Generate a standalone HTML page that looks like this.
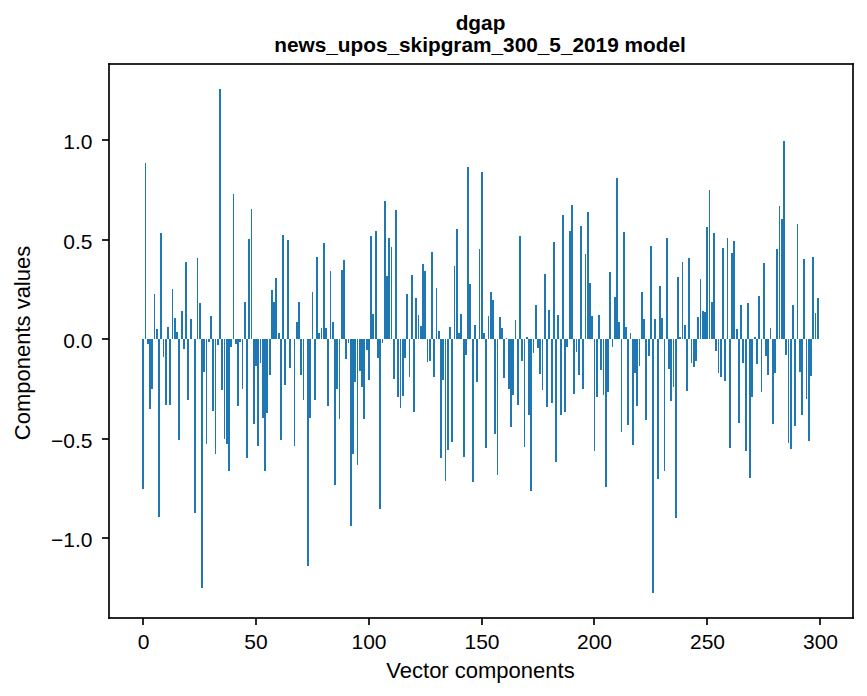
<!DOCTYPE html>
<html lang="en">
<head>
<meta charset="utf-8">
<title>dgap - news_upos_skipgram_300_5_2019 model</title>
<style>
html,body{margin:0;padding:0;background:#fff;font-family:"Liberation Sans",sans-serif}
svg{display:block}
</style>
</head>
<body>
<svg width="867" height="696" viewBox="0 0 867 696" role="img" aria-label="Bar chart of the 300 vector components of the word dgap in the news_upos_skipgram_300_5_2019 model">
<rect width="867" height="696" fill="#fff"/>
<g id="bars" fill="#1f77b4" shape-rendering="crispEdges">
<rect x="142" y="339" width="2" height="150"/><rect x="145" y="163" width="1" height="176"/><rect x="147" y="339" width="2" height="5"/><rect x="149" y="339" width="2" height="70"/><rect x="151" y="339" width="2" height="50"/><rect x="154" y="294" width="1" height="45"/>
<rect x="156" y="329" width="2" height="10"/><rect x="158" y="339" width="2" height="178"/><rect x="160" y="233" width="2" height="106"/><rect x="163" y="339" width="1" height="18"/><rect x="165" y="339" width="2" height="66"/><rect x="167" y="327" width="2" height="12"/>
<rect x="169" y="339" width="2" height="66"/><rect x="172" y="289" width="1" height="50"/><rect x="174" y="318" width="2" height="21"/><rect x="176" y="332" width="2" height="7"/><rect x="178" y="339" width="2" height="101"/><rect x="181" y="311" width="2" height="28"/>
<rect x="183" y="339" width="2" height="10"/><rect x="185" y="262" width="2" height="77"/><rect x="187" y="339" width="2" height="61"/><rect x="190" y="319" width="2" height="20"/><rect x="194" y="339" width="2" height="174"/><rect x="197" y="258" width="1" height="81"/>
<rect x="199" y="303" width="2" height="36"/><rect x="201" y="339" width="2" height="249"/><rect x="203" y="339" width="2" height="33"/><rect x="206" y="339" width="1" height="105"/><rect x="208" y="339" width="2" height="3"/><rect x="210" y="316" width="2" height="23"/>
<rect x="212" y="339" width="2" height="72"/><rect x="215" y="339" width="1" height="115"/><rect x="217" y="339" width="2" height="6"/><rect x="219" y="89" width="2" height="250"/><rect x="221" y="339" width="2" height="51"/><rect x="224" y="339" width="1" height="100"/>
<rect x="226" y="339" width="2" height="105"/><rect x="228" y="339" width="2" height="132"/><rect x="230" y="339" width="2" height="8"/><rect x="233" y="194" width="1" height="145"/><rect x="235" y="339" width="2" height="5"/><rect x="237" y="339" width="2" height="67"/>
<rect x="239" y="339" width="2" height="3"/><rect x="242" y="339" width="1" height="50"/><rect x="244" y="302" width="2" height="37"/><rect x="246" y="339" width="2" height="119"/><rect x="248" y="239" width="2" height="100"/><rect x="251" y="209" width="1" height="130"/>
<rect x="253" y="339" width="2" height="85"/><rect x="255" y="339" width="2" height="27"/><rect x="257" y="339" width="2" height="107"/><rect x="260" y="339" width="1" height="24"/><rect x="262" y="339" width="2" height="79"/><rect x="264" y="339" width="2" height="132"/>
<rect x="266" y="339" width="2" height="74"/><rect x="269" y="339" width="2" height="36"/><rect x="271" y="290" width="2" height="49"/><rect x="273" y="302" width="2" height="37"/><rect x="275" y="278" width="2" height="61"/><rect x="278" y="333" width="2" height="6"/>
<rect x="280" y="339" width="2" height="101"/><rect x="282" y="235" width="2" height="104"/><rect x="284" y="339" width="2" height="46"/><rect x="287" y="240" width="2" height="99"/><rect x="289" y="339" width="2" height="29"/><rect x="294" y="339" width="1" height="107"/>
<rect x="296" y="322" width="2" height="17"/><rect x="298" y="302" width="2" height="37"/><rect x="300" y="339" width="2" height="36"/><rect x="303" y="339" width="1" height="61"/><rect x="307" y="339" width="2" height="227"/><rect x="309" y="339" width="2" height="79"/>
<rect x="312" y="292" width="1" height="47"/><rect x="314" y="339" width="2" height="61"/><rect x="316" y="257" width="2" height="82"/><rect x="318" y="333" width="2" height="6"/><rect x="321" y="328" width="1" height="11"/><rect x="323" y="243" width="2" height="96"/>
<rect x="325" y="328" width="2" height="11"/><rect x="327" y="339" width="2" height="67"/><rect x="330" y="271" width="1" height="68"/><rect x="332" y="322" width="2" height="17"/><rect x="334" y="339" width="2" height="146"/><rect x="336" y="339" width="2" height="50"/>
<rect x="339" y="339" width="1" height="80"/><rect x="341" y="270" width="2" height="69"/><rect x="343" y="260" width="2" height="79"/><rect x="345" y="339" width="2" height="20"/><rect x="348" y="339" width="1" height="4"/><rect x="350" y="339" width="2" height="187"/>
<rect x="352" y="339" width="2" height="115"/><rect x="354" y="339" width="2" height="43"/><rect x="357" y="339" width="1" height="126"/><rect x="359" y="339" width="2" height="32"/><rect x="361" y="339" width="2" height="48"/><rect x="363" y="339" width="2" height="80"/>
<rect x="366" y="339" width="2" height="11"/><rect x="368" y="339" width="2" height="41"/><rect x="370" y="236" width="2" height="103"/><rect x="372" y="314" width="2" height="25"/><rect x="375" y="231" width="2" height="108"/><rect x="377" y="339" width="2" height="19"/>
<rect x="379" y="339" width="2" height="170"/><rect x="382" y="339" width="1" height="4"/><rect x="384" y="201" width="2" height="138"/><rect x="386" y="276" width="2" height="63"/><rect x="388" y="238" width="2" height="101"/><rect x="391" y="247" width="1" height="92"/>
<rect x="393" y="339" width="2" height="40"/><rect x="395" y="210" width="2" height="129"/><rect x="397" y="339" width="2" height="58"/><rect x="400" y="339" width="1" height="69"/><rect x="402" y="339" width="2" height="57"/><rect x="404" y="339" width="2" height="19"/>
<rect x="406" y="294" width="2" height="45"/><rect x="409" y="339" width="1" height="38"/><rect x="411" y="275" width="2" height="64"/><rect x="413" y="339" width="2" height="73"/><rect x="415" y="298" width="2" height="41"/><rect x="418" y="315" width="1" height="24"/>
<rect x="420" y="326" width="2" height="13"/><rect x="422" y="264" width="2" height="75"/><rect x="424" y="271" width="2" height="68"/><rect x="427" y="339" width="1" height="23"/><rect x="429" y="339" width="2" height="22"/><rect x="431" y="252" width="2" height="87"/>
<rect x="433" y="339" width="2" height="38"/><rect x="436" y="288" width="1" height="51"/><rect x="438" y="331" width="2" height="8"/><rect x="440" y="339" width="2" height="119"/><rect x="442" y="339" width="2" height="41"/><rect x="445" y="339" width="1" height="142"/>
<rect x="447" y="339" width="2" height="111"/><rect x="449" y="327" width="2" height="12"/><rect x="451" y="339" width="2" height="103"/><rect x="454" y="266" width="1" height="73"/><rect x="456" y="229" width="2" height="110"/><rect x="458" y="333" width="2" height="6"/>
<rect x="460" y="314" width="2" height="25"/><rect x="463" y="339" width="2" height="118"/><rect x="465" y="339" width="2" height="16"/><rect x="467" y="167" width="2" height="172"/><rect x="469" y="284" width="2" height="55"/><rect x="472" y="339" width="2" height="143"/>
<rect x="474" y="325" width="2" height="14"/><rect x="476" y="339" width="2" height="43"/><rect x="479" y="249" width="1" height="90"/><rect x="481" y="172" width="2" height="167"/><rect x="483" y="333" width="2" height="6"/><rect x="485" y="339" width="2" height="109"/>
<rect x="488" y="316" width="1" height="23"/><rect x="490" y="292" width="2" height="47"/><rect x="492" y="300" width="2" height="39"/><rect x="494" y="339" width="2" height="95"/><rect x="497" y="339" width="1" height="136"/><rect x="499" y="317" width="2" height="22"/>
<rect x="501" y="328" width="2" height="11"/><rect x="503" y="339" width="2" height="39"/><rect x="506" y="338" width="1" height="1"/><rect x="508" y="339" width="2" height="50"/><rect x="510" y="339" width="2" height="88"/><rect x="512" y="339" width="2" height="56"/>
<rect x="515" y="320" width="1" height="19"/><rect x="517" y="339" width="2" height="66"/><rect x="519" y="236" width="2" height="103"/><rect x="521" y="339" width="2" height="22"/><rect x="524" y="339" width="1" height="108"/><rect x="526" y="337" width="2" height="2"/>
<rect x="528" y="339" width="2" height="76"/><rect x="530" y="339" width="2" height="152"/><rect x="533" y="339" width="1" height="14"/><rect x="535" y="305" width="2" height="34"/><rect x="537" y="339" width="2" height="9"/><rect x="539" y="339" width="2" height="35"/>
<rect x="542" y="339" width="1" height="51"/><rect x="544" y="274" width="2" height="65"/><rect x="546" y="339" width="2" height="68"/><rect x="548" y="310" width="2" height="29"/><rect x="551" y="339" width="2" height="64"/><rect x="553" y="242" width="2" height="97"/>
<rect x="555" y="339" width="2" height="123"/><rect x="557" y="315" width="2" height="24"/><rect x="560" y="339" width="2" height="76"/><rect x="562" y="215" width="2" height="124"/><rect x="564" y="339" width="2" height="73"/><rect x="566" y="339" width="2" height="8"/>
<rect x="569" y="231" width="2" height="108"/><rect x="571" y="205" width="2" height="134"/><rect x="573" y="339" width="2" height="55"/><rect x="576" y="339" width="1" height="13"/><rect x="578" y="339" width="2" height="36"/><rect x="580" y="226" width="2" height="113"/>
<rect x="582" y="339" width="2" height="50"/><rect x="585" y="254" width="1" height="85"/><rect x="587" y="212" width="2" height="127"/><rect x="589" y="283" width="2" height="56"/><rect x="591" y="316" width="2" height="23"/><rect x="594" y="339" width="1" height="112"/>
<rect x="596" y="339" width="2" height="58"/><rect x="598" y="315" width="2" height="24"/><rect x="600" y="339" width="2" height="31"/><rect x="603" y="339" width="1" height="56"/><rect x="605" y="339" width="2" height="148"/><rect x="607" y="339" width="2" height="53"/>
<rect x="609" y="272" width="2" height="67"/><rect x="612" y="339" width="1" height="8"/><rect x="614" y="297" width="2" height="42"/><rect x="616" y="178" width="2" height="161"/><rect x="618" y="322" width="2" height="17"/><rect x="621" y="339" width="1" height="93"/>
<rect x="623" y="232" width="2" height="107"/><rect x="625" y="327" width="2" height="12"/><rect x="627" y="339" width="2" height="86"/><rect x="630" y="333" width="1" height="6"/><rect x="632" y="339" width="2" height="106"/><rect x="634" y="339" width="2" height="34"/>
<rect x="636" y="339" width="2" height="67"/><rect x="639" y="339" width="1" height="27"/><rect x="641" y="292" width="2" height="47"/><rect x="643" y="319" width="2" height="20"/><rect x="645" y="339" width="2" height="81"/><rect x="648" y="339" width="2" height="17"/>
<rect x="650" y="246" width="2" height="93"/><rect x="652" y="339" width="2" height="254"/><rect x="654" y="319" width="2" height="20"/><rect x="657" y="339" width="2" height="140"/><rect x="659" y="286" width="2" height="53"/><rect x="661" y="318" width="2" height="21"/>
<rect x="664" y="339" width="1" height="132"/><rect x="666" y="238" width="2" height="101"/><rect x="668" y="339" width="2" height="30"/><rect x="670" y="339" width="2" height="62"/><rect x="673" y="339" width="1" height="48"/><rect x="675" y="339" width="2" height="179"/>
<rect x="677" y="277" width="2" height="62"/><rect x="679" y="337" width="2" height="2"/><rect x="682" y="262" width="1" height="77"/><rect x="684" y="325" width="2" height="14"/><rect x="686" y="339" width="2" height="52"/><rect x="688" y="258" width="2" height="81"/>
<rect x="691" y="339" width="1" height="24"/><rect x="693" y="339" width="2" height="28"/><rect x="695" y="339" width="2" height="22"/><rect x="697" y="317" width="2" height="22"/><rect x="700" y="279" width="1" height="60"/><rect x="702" y="311" width="2" height="28"/>
<rect x="704" y="312" width="2" height="27"/><rect x="706" y="227" width="2" height="112"/><rect x="709" y="190" width="1" height="149"/><rect x="711" y="302" width="2" height="37"/><rect x="713" y="233" width="2" height="106"/><rect x="715" y="339" width="2" height="12"/>
<rect x="718" y="339" width="1" height="34"/><rect x="720" y="339" width="2" height="38"/><rect x="722" y="248" width="2" height="91"/><rect x="724" y="339" width="2" height="42"/><rect x="727" y="238" width="1" height="101"/><rect x="729" y="339" width="2" height="109"/>
<rect x="731" y="253" width="2" height="86"/><rect x="733" y="241" width="2" height="98"/><rect x="736" y="329" width="2" height="10"/><rect x="738" y="339" width="2" height="84"/><rect x="740" y="305" width="2" height="34"/><rect x="742" y="339" width="2" height="24"/>
<rect x="745" y="339" width="2" height="112"/><rect x="747" y="303" width="2" height="36"/><rect x="749" y="339" width="2" height="139"/><rect x="751" y="339" width="2" height="58"/><rect x="754" y="337" width="2" height="2"/><rect x="756" y="339" width="2" height="25"/>
<rect x="758" y="296" width="2" height="43"/><rect x="761" y="339" width="1" height="53"/><rect x="763" y="263" width="2" height="76"/><rect x="765" y="339" width="2" height="17"/><rect x="767" y="339" width="2" height="36"/><rect x="770" y="328" width="1" height="11"/>
<rect x="772" y="339" width="2" height="85"/><rect x="774" y="339" width="2" height="34"/><rect x="776" y="249" width="2" height="90"/><rect x="779" y="206" width="1" height="133"/><rect x="781" y="219" width="2" height="120"/><rect x="783" y="141" width="2" height="198"/>
<rect x="785" y="339" width="2" height="16"/><rect x="788" y="339" width="1" height="104"/><rect x="790" y="339" width="2" height="110"/><rect x="792" y="305" width="2" height="34"/><rect x="794" y="339" width="2" height="87"/><rect x="797" y="224" width="1" height="115"/>
<rect x="799" y="339" width="2" height="33"/><rect x="801" y="339" width="2" height="76"/><rect x="803" y="259" width="2" height="80"/><rect x="806" y="339" width="1" height="60"/><rect x="808" y="339" width="2" height="102"/><rect x="810" y="339" width="2" height="37"/>
<rect x="812" y="257" width="2" height="82"/><rect x="815" y="313" width="1" height="26"/><rect x="817" y="298" width="2" height="41"/>
</g>
<g id="frame" fill="#000" fill-opacity="0.8353" shape-rendering="crispEdges">
<rect x="108" y="65" width="2" height="552"/><rect x="852" y="65" width="2" height="552"/><rect x="110" y="63" width="742" height="2"/><rect x="110" y="617" width="742" height="2"/>
<rect x="142" y="618" width="2" height="7"/><rect x="255" y="618" width="2" height="7"/><rect x="368" y="618" width="2" height="7"/><rect x="481" y="618" width="2" height="7"/><rect x="593" y="618" width="2" height="7"/><rect x="706" y="618" width="2" height="7"/><rect x="819" y="618" width="2" height="7"/>
<rect x="102" y="139" width="7" height="2"/><rect x="102" y="239" width="7" height="2"/><rect x="102" y="338" width="7" height="2"/><rect x="102" y="438" width="7" height="2"/><rect x="102" y="537" width="7" height="2"/>
</g>
<g id="corners" shape-rendering="crispEdges">
<rect x="108" y="63" width="1" height="1" fill="rgb(23,23,23)"/><rect x="109" y="63" width="1" height="1" fill="rgb(12,12,12)"/><rect x="108" y="64" width="1" height="1" fill="rgb(12,12,12)"/><rect x="109" y="64" width="1" height="1" fill="rgb(7,7,7)"/>
<rect x="853" y="63" width="1" height="1" fill="rgb(23,23,23)"/><rect x="852" y="63" width="1" height="1" fill="rgb(12,12,12)"/><rect x="853" y="64" width="1" height="1" fill="rgb(12,12,12)"/><rect x="852" y="64" width="1" height="1" fill="rgb(7,7,7)"/>
<rect x="108" y="618" width="1" height="1" fill="rgb(23,23,23)"/><rect x="109" y="618" width="1" height="1" fill="rgb(12,12,12)"/><rect x="108" y="617" width="1" height="1" fill="rgb(12,12,12)"/><rect x="109" y="617" width="1" height="1" fill="rgb(7,7,7)"/>
<rect x="853" y="618" width="1" height="1" fill="rgb(23,23,23)"/><rect x="852" y="618" width="1" height="1" fill="rgb(12,12,12)"/><rect x="853" y="617" width="1" height="1" fill="rgb(12,12,12)"/><rect x="852" y="617" width="1" height="1" fill="rgb(7,7,7)"/>
</g>
<g id="labels" fill="#000" font-family="'Liberation Sans', sans-serif" font-size="21">
<g id="text_1"><text x="143.6" y="649" text-anchor="middle">0</text></g>
<g id="text_2"><text x="256" y="649" text-anchor="middle">50</text></g>
<g id="text_3"><text x="369" y="649" text-anchor="middle">100</text></g>
<g id="text_4"><text x="482" y="649" text-anchor="middle">150</text></g>
<g id="text_5"><text x="594.5" y="649" text-anchor="middle">200</text></g>
<g id="text_6"><text x="707.5" y="649" text-anchor="middle">250</text></g>
<g id="text_7"><text x="820.5" y="649" text-anchor="middle">300</text></g>
<g id="text_8"><text x="480.5" y="678" text-anchor="middle" font-size="22">Vector components</text></g>
<g id="text_9"><text x="92.5" y="547" text-anchor="end">−1.0</text></g>
<g id="text_10"><text x="92.5" y="448" text-anchor="end">−0.5</text></g>
<g id="text_11"><text x="92.5" y="348" text-anchor="end">0.0</text></g>
<g id="text_12"><text x="92.5" y="249" text-anchor="end">0.5</text></g>
<g id="text_13"><text x="92.5" y="149" text-anchor="end">1.0</text></g>
<g id="text_14"><text x="30" y="343" text-anchor="middle" font-size="22" transform="rotate(-90 30 343)">Components values</text></g>
<g id="text_15" font-weight="bold" font-size="20.8"><text x="480.5" y="30" text-anchor="middle">dgap</text><text x="480" y="52" text-anchor="middle">news_upos_skipgram_300_5_2019 model</text></g>
</g>
</svg>
</body>
</html>
